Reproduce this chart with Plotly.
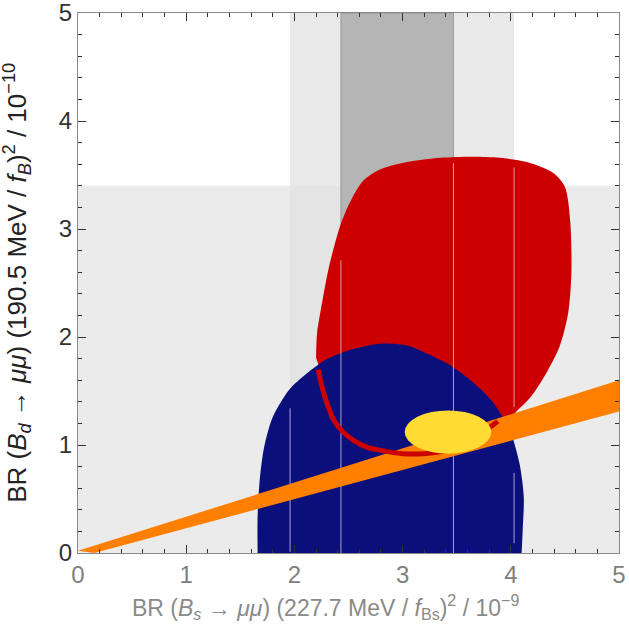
import plotly.graph_objects as go

# ---- data ----
# grey experimental bands
h_band = [0.0, 3.4]            # Bd band (y range, full x width)
v_light = [1.96, 4.03]         # Bs 2-sigma band (x range)
v_dark = [2.43, 3.47]          # Bs 1-sigma band (x range)

# red allowed region (outline)
red_x = [2.20, 2.21, 2.26, 2.32, 2.42, 2.51, 2.63, 2.79, 3.04, 3.35, 3.65, 3.90, 4.15, 4.39, 4.50,
         4.55, 4.56, 4.53, 4.45, 4.33, 4.18, 4.06, 3.90, 3.50, 3.00, 2.60, 2.30]
red_y = [1.81, 2.04, 2.34, 2.65, 3.02, 3.24, 3.44, 3.55, 3.62, 3.66, 3.67, 3.66, 3.62, 3.52, 3.39,
         3.06, 2.59, 2.22, 1.91, 1.67, 1.44, 1.32, 1.15, 1.00, 1.00, 1.20, 1.50]

# blue allowed region (outline)
blue_x = [1.66, 1.66, 1.68, 1.72, 1.80, 1.95, 2.11, 2.29, 2.51, 2.82, 3.05, 3.22, 3.42, 3.59, 3.73,
          3.84, 3.99, 4.08, 4.12, 4.11, 4.10]
blue_y = [0.00, 0.34, 0.68, 0.98, 1.26, 1.51, 1.66, 1.79, 1.88, 1.94, 1.92, 1.85, 1.75, 1.63, 1.51,
          1.39, 1.14, 0.83, 0.52, 0.21, 0.00]

# thin light lines over regions (x, y_from, y_to)
line_x = [1.96, 2.43, 3.47, 4.03, 4.03]
line_y0 = [0.01, 0.00, 0.00, 1.35, 0.09]
line_y1 = [1.34, 2.71, 3.61, 3.57, 0.74]

# orange band (ratio constraint)
orange_x = [0.0, 5.0, 5.0, 0.15]
orange_y = [0.02, 1.60, 1.31, 0.0]

# red thin arc
arc_x = [2.22, 2.26, 2.31, 2.37, 2.45, 2.55, 2.67, 2.80, 3.00, 3.20, 3.45, 3.65, 3.80, 3.88]
arc_y = [1.70, 1.52, 1.36, 1.22, 1.12, 1.04, 0.98, 0.95, 0.92, 0.92, 0.96, 1.06, 1.16, 1.22]

# yellow ellipse (center, semi-axes)
yel_c = [3.42, 1.12]
yel_r = [0.40, 0.20]

ticks = [0, 1, 2, 3, 4, 5]

x_title = "BR (<i>B<sub>s</sub></i> → <i>μμ</i>) (227.7 MeV / <i>f</i><sub>Bs</sub>)<sup>2</sup> / 10<sup>−9</sup>"
y_title = "BR (<i>B<sub>d</sub></i> → <i>μμ</i>) (190.5 MeV / <i>f<sub>B</sub></i>)<sup>2</sup> / 10<sup>−10</sup>"

RED = "#cc0000"
BLUE = "#0b0f7c"
ORANGE = "#ff8000"
YELLOW = "#ffdb33"

fig = go.Figure()

fig.add_trace(go.Scatter(x=red_x, y=red_y, fill="toself", fillcolor=RED, mode="lines",
                         line=dict(color=RED, width=0, shape="spline", smoothing=0.8),
                         hoverinfo="skip"))
fig.add_trace(go.Scatter(x=blue_x, y=blue_y, fill="toself", fillcolor=BLUE, mode="lines",
                         line=dict(color=BLUE, width=0, shape="spline", smoothing=0.8),
                         hoverinfo="skip"))
for lx, a, b in zip(line_x, line_y0, line_y1):
    fig.add_trace(go.Scatter(x=[lx, lx], y=[a, b], mode="lines",
                             line=dict(color="rgba(215,215,225,0.75)", width=1), hoverinfo="skip"))
fig.add_trace(go.Scatter(x=orange_x, y=orange_y, fill="toself", fillcolor=ORANGE, mode="lines",
                         line=dict(color=ORANGE, width=0), hoverinfo="skip"))
fig.add_trace(go.Scatter(x=arc_x, y=arc_y, mode="lines", line=dict(color=RED, width=5, shape="spline"),
                         hoverinfo="skip"))

shapes = [
    dict(type="rect", xref="x", yref="y", x0=0, x1=5, y0=h_band[0], y1=h_band[1],
         fillcolor="#ebebeb", line=dict(width=0), layer="below"),
    dict(type="rect", xref="x", yref="y", x0=v_light[0], x1=v_light[1], y0=h_band[1], y1=5,
         fillcolor="#e9e9e9", line=dict(width=0), layer="below"),
    dict(type="rect", xref="x", yref="y", x0=v_light[0], x1=v_light[1], y0=0, y1=h_band[1],
         fillcolor="#e4e4e4", line=dict(width=0), layer="below"),
    dict(type="rect", xref="x", yref="y", x0=v_dark[0], x1=v_dark[1], y0=0, y1=5,
         fillcolor="#b5b5b5", line=dict(color="#999999", width=1), layer="below"),
    dict(type="circle", xref="x", yref="y", x0=yel_c[0] - yel_r[0], x1=yel_c[0] + yel_r[0],
         y0=yel_c[1] - yel_r[1], y1=yel_c[1] + yel_r[1], fillcolor=YELLOW, line=dict(width=0),
         layer="above"),
]

font_family = "Liberation Sans, Arial, sans-serif"

fig.update_layout(
    width=629, height=640,
    margin=dict(l=78, r=10, t=13, b=87),
    paper_bgcolor="white", plot_bgcolor="white",
    showlegend=False,
    shapes=shapes,
    font=dict(family=font_family),
    annotations=[
        dict(text=x_title, xref="paper", yref="paper", x=0.457, y=-0.10,
             xanchor="center", yanchor="middle", showarrow=False,
             font=dict(size=23, color="#8a8a8a")),
        dict(text=y_title, xref="paper", yref="paper", x=-0.113, y=0.50,
             xanchor="center", yanchor="middle", showarrow=False, textangle=-90,
             font=dict(size=26, color="#222222")),
    ],
    xaxis=dict(
        range=[0, 5], tickvals=ticks, ticktext=[str(t) for t in ticks],
        ticks="inside", ticklen=8, tickcolor="#333", tickwidth=1,
        minor=dict(dtick=0.2, ticks="inside", ticklen=4, tickcolor="#333"),
        showline=True, linecolor="#888", linewidth=1, mirror="ticks",
        showgrid=False, zeroline=False, automargin=False, ticklabeloverflow="allow",
        tickfont=dict(size=24, color="#808080"),
    ),
    yaxis=dict(
        range=[0, 5], tickvals=ticks, ticktext=[str(t) for t in ticks],
        ticks="inside", ticklen=8, tickcolor="#333", tickwidth=1,
        minor=dict(dtick=0.2, ticks="inside", ticklen=4, tickcolor="#333"),
        showline=True, linecolor="#888", linewidth=1, mirror="ticks",
        showgrid=False, zeroline=False, automargin=False, ticklabeloverflow="allow",
        tickfont=dict(size=24, color="#333333"),
    ),
)

fig.write_html("out.html")
